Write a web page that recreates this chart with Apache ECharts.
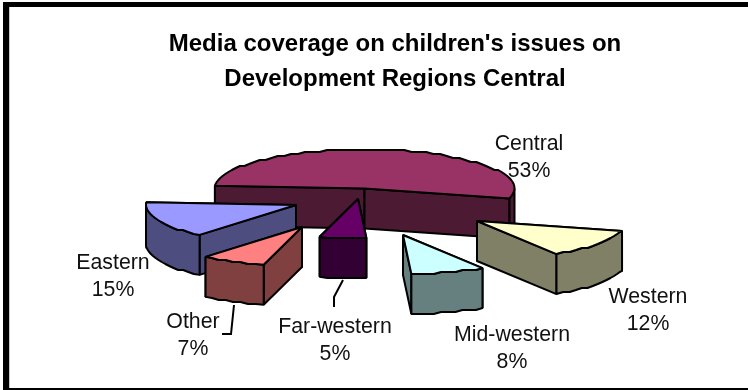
<!DOCTYPE html>
<html>
<head>
<meta charset="utf-8">
<style>
  html, body { margin: 0; padding: 0; background: #fff; }
  #chart { width: 748px; height: 390px; }
</style>
<script src="https://cdn.jsdelivr.net/npm/echarts@6/dist/echarts.min.js"></script>
</head>
<body>
<div id="chart"></div>
<script>
// Share of media coverage per development region, clockwise from the first slice.
const regions = ['Central', 'Western', 'Mid-western', 'Far-western', 'Other', 'Eastern'];
const shares = [53, 12, 8, 5, 7, 15];
const topColors = ['#993366', '#ffffcc', '#ccffff', '#660066', '#ff8080', '#9999ff'];
const sideColors = ['#4d1a33', '#808066', '#668080', '#330033', '#804040', '#4d4d80'];

// Tilted pie projection.
const pie = { cx: 364.5, cy: 188.5, rx: 150, ry: 39, depth: 40, startDeg: 274 };
// How far each slice is pulled out of the pie, in pixels.
const explode = [[0, 0], [112.5, 32.5], [38.5, 46.5], [-6.5, 10.5], [-62.5, 38.5], [-68.5, 16.5]];
// Centre of each two-line label.
const labelAt = [[529, 157.5], [648, 310.5], [512, 348.5], [335, 341], [193, 336], [113, 277]];
// Leader lines for the labels that sit away from their slice.
const leaders = {
  3: [[343, 280], [334, 297], [334, 307]],
  4: [[234, 305], [231, 334], [222, 334]]
};

const total = shares.reduce((a, b) => a + b, 0);
const rad = d => d * Math.PI / 180;

// Arc points are held to a coarse raster, which gives the rim its stepped edge.
function arc(ox, oy, fromDeg, toDeg) {
  const pts = [];
  const steps = Math.max(2, Math.round((toDeg - fromDeg) / 3));
  for (let i = 0; i <= steps; i++) {
    const a = rad(fromDeg + (toDeg - fromDeg) * i / steps);
    const p = [ox + pie.rx * Math.sin(a), oy - pie.ry * Math.cos(a)];
    pts.push(i === 0 || i === steps ? p : [p[0], Math.round(p[1] / 2) * 2]);
  }
  return pts;
}
const down = pts => pts.map(p => [p[0], p[1] + pie.depth]).reverse();

// Start angle of every slice, from the running share total.
const starts = [];
shares.reduce((sum, v, i) => { starts[i] = pie.startDeg + sum / total * 360; return sum + v; }, 0);

function renderSlice(params, api) {
  const i = api.value(0);
  const from = starts[i];
  const to = from + api.value(1) / total * 360;
  const ox = pie.cx + explode[i][0];
  const oy = pie.cy + explode[i][1];
  const apex = [ox, oy];
  const rim = arc(ox, oy, from, to);
  const first = rim[0];
  const last = rim[rim.length - 1];
  const kids = [];
  // Stacking rank: nearer slices above farther ones, faces in order inside a slice.
  const poly = (points, fill, layer) => ({
    type: 'polygon', z2: params.dataIndex * 10 + layer,
    shape: { points },
    style: { fill, stroke: '#000', lineWidth: 2, lineJoin: 'bevel' }
  });
  const wall = (a, b, layer) => poly([a, b, [b[0], b[1] + pie.depth], [a[0], a[1] + pie.depth]], sideColors[i], layer);

  // Radial walls, the one further back first.
  const walls = [[apex, first], [apex, last]];
  walls.sort((m, n) => m[1][1] - n[1][1]);
  walls.forEach((w, n) => kids.push(wall(w[0], w[1], n)));

  // Outer wall: only the part of the rim that faces the viewer (90 to 270 degrees).
  for (const k of [0, 360]) {
    const lo = Math.max(from, 90 + k);
    const hi = Math.min(to, 270 + k);
    if (hi > lo) {
      const edge = arc(ox, oy, lo, hi);
      kids.push(poly(edge.concat(down(edge)), sideColors[i], 2));
    }
  }
  kids.push(poly([apex].concat(rim), topColors[i], 3));
  return { type: 'group', children: kids };
}

// Rear slices are drawn first so the nearer ones overlap them.
const drawOrder = regions.map((_, i) => i).sort((a, b) => explode[a][1] - explode[b][1]);
const sliceData = drawOrder.map(i => [i, shares[i]]);

function renderLabel(params, api) {
  const i = api.value(0);
  const kids = [];
  (leaders[i] ? [leaders[i]] : []).forEach(points => kids.push({
    type: 'polyline', shape: { points },
    style: { fill: 'none', stroke: '#000', lineWidth: 2 }
  }));
  const font = '21.3px "Liberation Sans", Arial, sans-serif';
  kids.push({
    type: 'text',
    style: {
      x: labelAt[i][0], y: labelAt[i][1] - 13.5, text: regions[i],
      font, fill: '#111', align: 'center', verticalAlign: 'middle'
    }
  });
  kids.push({
    type: 'text',
    style: {
      x: labelAt[i][0], y: labelAt[i][1] + 13.5, text: Math.round(api.value(1) / total * 100) + '%',
      font, fill: '#111', align: 'center', verticalAlign: 'middle'
    }
  });
  return { type: 'group', children: kids };
}

// Heavy frame on the left, top and bottom of the plate.
const frame = [
  { x: 3, y: 2, width: 6, height: 388 },
  { x: 3, y: 2, width: 745, height: 5 },
  { x: 3, y: 388, width: 745, height: 2 }
];

const chart = echarts.init(document.getElementById('chart'), null, { renderer: 'canvas' });
chart.setOption({
  animation: false,
  backgroundColor: '#fff',
  title: {
    text: "Media coverage on children's issues on\nDevelopment Regions Central",
    left: 390, top: 22, textAlign: 'center',
    textStyle: {
      fontFamily: '"Liberation Sans", Arial, sans-serif',
      fontSize: 24, fontWeight: 'bold', color: '#000', lineHeight: 35
    }
  },
  graphic: frame.map(shape => ({
    type: 'rect', silent: true, z: 100, shape, style: { fill: '#000' }
  })).concat([{
    type: 'rect', silent: true, z: 100,
    shape: { x: 9, y: 7, width: 1, height: 381 }, style: { fill: '#c8c8c8' }
  }]),
  series: [
    { type: 'custom', coordinateSystem: 'none', renderItem: renderSlice, data: sliceData, silent: true },
    { type: 'custom', coordinateSystem: 'none', renderItem: renderLabel, data: regions.map((_, i) => [i, shares[i]]), silent: true, z: 5 }
  ]
});
</script>
</body>
</html>
